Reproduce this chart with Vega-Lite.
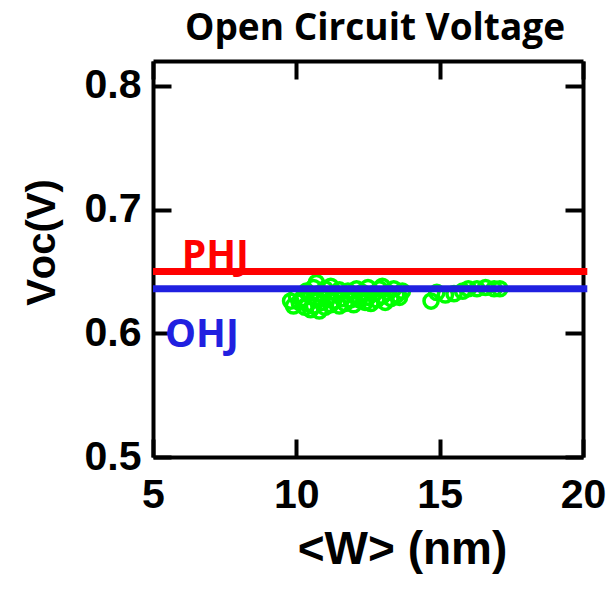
{
  "$schema": "https://vega.github.io/schema/vega-lite/v6.json",
  "width": 430,
  "height": 396,
  "autosize": {"type": "none"},
  "padding": {"left": 153, "top": 61, "right": 24, "bottom": 136},
  "background": "white",
  "config": {"view": {"stroke": null}},
  "title": {"text": "Open Circuit Voltage", "font": "Open Sans", "fontWeight": "bold", "fontSize": 37, "color": "black", "anchor": "middle", "offset": 11, "dx": 7},
  "datasets": {
    "pts": [
      {"w": 9.8, "voc": 0.626}, {"w": 9.9, "voc": 0.622}, {"w": 10.0, "voc": 0.63}, {"w": 10.1, "voc": 0.625},
      {"w": 10.2, "voc": 0.628}, {"w": 10.3, "voc": 0.621}, {"w": 10.35, "voc": 0.634}, {"w": 10.4, "voc": 0.624},
      {"w": 10.5, "voc": 0.619}, {"w": 10.5, "voc": 0.63}, {"w": 10.6, "voc": 0.637}, {"w": 10.6, "voc": 0.622},
      {"w": 10.7, "voc": 0.641}, {"w": 10.7, "voc": 0.627}, {"w": 10.8, "voc": 0.618}, {"w": 10.8, "voc": 0.632},
      {"w": 10.9, "voc": 0.625}, {"w": 11.0, "voc": 0.636}, {"w": 11.0, "voc": 0.621}, {"w": 11.1, "voc": 0.629},
      {"w": 11.2, "voc": 0.623}, {"w": 11.2, "voc": 0.638}, {"w": 11.3, "voc": 0.626}, {"w": 11.4, "voc": 0.632},
      {"w": 11.5, "voc": 0.622}, {"w": 11.5, "voc": 0.635}, {"w": 11.6, "voc": 0.628}, {"w": 11.7, "voc": 0.624},
      {"w": 11.8, "voc": 0.634}, {"w": 11.9, "voc": 0.627}, {"w": 12.0, "voc": 0.631}, {"w": 12.0, "voc": 0.623},
      {"w": 12.1, "voc": 0.636}, {"w": 12.2, "voc": 0.627}, {"w": 12.3, "voc": 0.633}, {"w": 12.4, "voc": 0.625},
      {"w": 12.5, "voc": 0.637}, {"w": 12.5, "voc": 0.629}, {"w": 12.6, "voc": 0.624}, {"w": 12.7, "voc": 0.632},
      {"w": 12.8, "voc": 0.627}, {"w": 12.9, "voc": 0.636}, {"w": 13.0, "voc": 0.63}, {"w": 13.0, "voc": 0.638},
      {"w": 13.1, "voc": 0.625}, {"w": 13.2, "voc": 0.633}, {"w": 13.3, "voc": 0.628}, {"w": 13.4, "voc": 0.636},
      {"w": 13.5, "voc": 0.631}, {"w": 13.6, "voc": 0.629}, {"w": 13.7, "voc": 0.634},
      {"w": 14.7, "voc": 0.626}, {"w": 14.9, "voc": 0.633}, {"w": 15.2, "voc": 0.631}, {"w": 15.5, "voc": 0.632},
      {"w": 15.8, "voc": 0.634}, {"w": 16.0, "voc": 0.636}, {"w": 16.3, "voc": 0.636}, {"w": 16.6, "voc": 0.637},
      {"w": 16.9, "voc": 0.636}, {"w": 17.1, "voc": 0.636}
    ],
    "lines": [
      {"name": "PHJ", "x0": 5, "x1": 20.15, "v": 0.65, "lx": 6.0, "ly": 0.653},
      {"name": "OHJ", "x0": 5, "x1": 20.15, "v": 0.636, "lx": 5.42, "ly": 0.589}
    ]
  },
  "resolve": {"axis": {"x": "independent", "y": "independent"}},
  "layer": [
    {
      "data": {"name": "pts"},
      "mark": {"type": "point", "shape": "circle", "filled": false, "stroke": "#00ff00", "strokeWidth": 3.5, "size": 200, "opacity": 1},
      "encoding": {
        "x": {"field": "w", "type": "quantitative", "scale": {"domain": [5, 20], "nice": false, "zero": false},
          "axis": {"orient": "bottom", "title": "<W> (nm)", "values": [5, 10, 15, 20], "grid": false,
            "domainColor": "black", "domainWidth": 4, "tickColor": "black", "tickWidth": 4, "tickSize": -18,
            "labelFont": "Liberation Sans", "labelFontWeight": "bold", "labelFontSize": 41, "labelColor": "black",
            "labelPadding": 36, "labelFlush": false,
            "titleFont": "Liberation Sans", "titleFontWeight": "bold", "titleFontSize": 46, "titleColor": "black",
            "titleX": 249, "titleY": 92, "titleBaseline": "middle", "titleAnchor": null}},
        "y": {"field": "voc", "type": "quantitative", "scale": {"domain": [0.5, 0.82], "nice": false, "zero": false},
          "axis": {"orient": "left", "title": "Vᴏᴄ(V)", "values": [0.5, 0.6, 0.7, 0.8], "format": ".1f", "grid": false,
            "domainColor": "black", "domainWidth": 4, "tickColor": "black", "tickWidth": 4, "tickSize": -18,
            "labelFont": "Liberation Sans", "labelFontWeight": "bold", "labelFontSize": 41, "labelColor": "black",
            "labelPadding": 30, "labelFlush": false,
            "titleFont": "Liberation Sans", "titleFontWeight": "bold", "titleFontSize": 40, "titleColor": "black",
            "titleX": -111, "titleY": 181, "titleBaseline": "middle", "titleAngle": -90}}
      }
    },
    {
      "data": {"name": "lines"},
      "mark": {"type": "rule", "strokeWidth": 7, "clip": false},
      "encoding": {
        "x": {"field": "x0", "type": "quantitative", "axis": {"orient": "top", "labels": false, "title": null, "values": [5, 10, 15, 20], "grid": false, "domainColor": "black", "domainWidth": 4, "tickColor": "black", "tickWidth": 4, "tickSize": -18}},
        "x2": {"field": "x1"},
        "y": {"field": "v", "type": "quantitative", "axis": {"orient": "right", "labels": false, "title": null, "values": [0.5, 0.6, 0.7, 0.8], "grid": false, "domainColor": "black", "domainWidth": 4, "tickColor": "black", "tickWidth": 4, "tickSize": -18}},
        "color": {"field": "name", "type": "nominal", "scale": {"domain": ["PHJ", "OHJ"], "range": ["#ff0000", "#2020e0"]}, "legend": null}
      }
    },
    {
      "data": {"name": "lines"},
      "mark": {"type": "text", "font": "Open Sans", "fontWeight": "bold", "fontSize": 39, "align": "left", "baseline": "alphabetic", "clip": false},
      "encoding": {
        "x": {"field": "lx", "type": "quantitative", "axis": null},
        "y": {"field": "ly", "type": "quantitative", "axis": null},
        "text": {"field": "name"},
        "color": {"field": "name", "type": "nominal", "scale": {"domain": ["PHJ", "OHJ"], "range": ["#ff0000", "#2020e0"]}, "legend": null}
      }
    }
  ]
}
